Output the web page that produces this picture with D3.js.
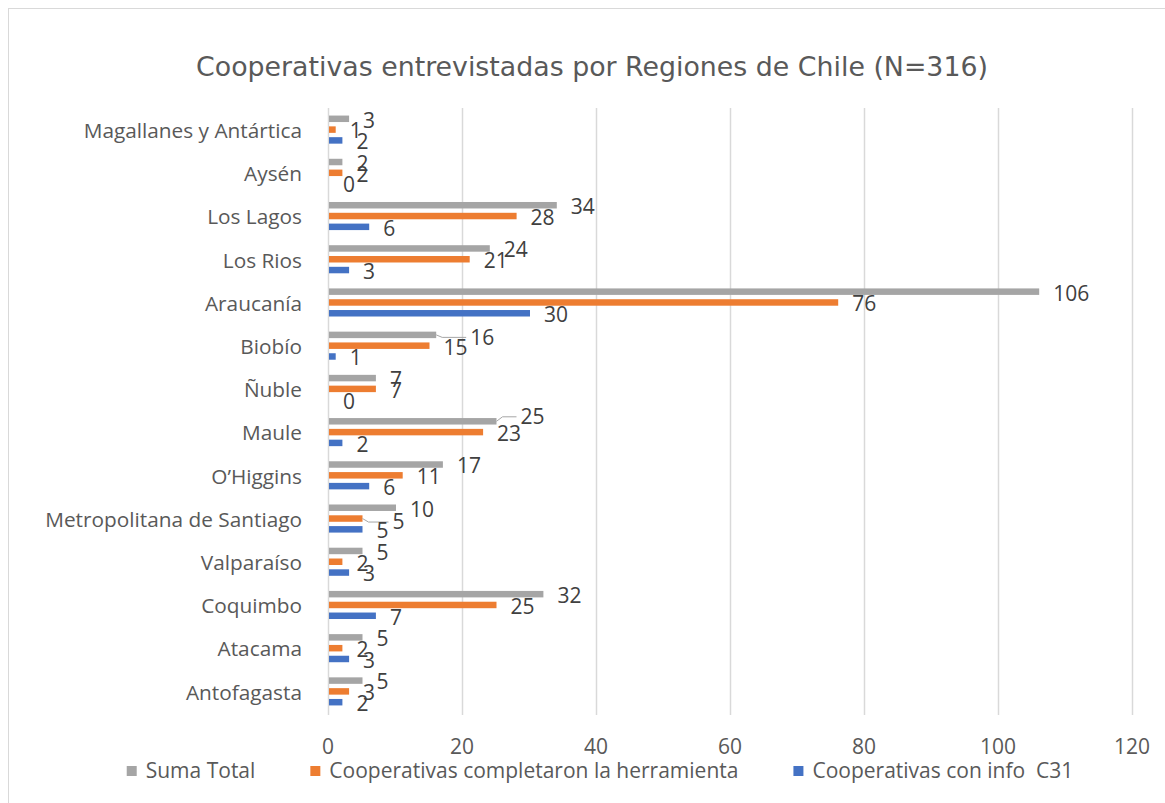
<!DOCTYPE html>
<html>
<head>
<meta charset="utf-8">
<script src="https://cdn.jsdelivr.net/npm/d3@7"></script>
<style>
  body { margin: 0; background: #fff; }
  text { font-family: "Open Sans", sans-serif; white-space: pre; }
</style>
</head>
<body>
<div id="chart"></div>
<script>
(function() {
    'use strict';

    var categories = ['Magallanes y Antártica', 'Aysén', 'Los Lagos', 'Los Rios', 'Araucanía', 'Biobío', 'Ñuble',
                      'Maule', 'O\u2019Higgins', 'Metropolitana de Santiago', 'Valparaíso', 'Coquimbo', 'Atacama', 'Antofagasta'];
    var seriesNames = ['Suma Total', 'Cooperativas completaron la herramienta', 'Cooperativas con info  C31'];
    var sumaTotal   = [3, 2, 34, 24, 106, 16, 7, 25, 17, 10, 5, 32, 5, 5];
    var completaron = [1, 2, 28, 21, 76, 15, 7, 23, 11, 5, 2, 25, 2, 3];
    var conInfo     = [2, 0, 6, 3, 30, 1, 0, 2, 6, 5, 3, 7, 3, 2];
    var xTicks = [0, 20, 40, 60, 80, 100, 120];

    var colors = ['#a5a5a5', '#ed7d31', '#4472c4'];
    var values = [sumaTotal, completaron, conInfo];

    // labels excel pushed aside with a leader line
    var nudges = {
        'Maule|0': { dx: 10, dy: -6 },
        'Biobío|0': { dx: 20, dy: 1 },
        'Metropolitana de Santiago|1': { dx: 16, dy: 2 }
    };

    var width = 1165,
        height = 803;

    var svg = d3.select('#chart').append('svg')
        .attr('width', width)
        .attr('height', height);

    svg.append('rect')
        .attr('x', 8.5).attr('y', 8.5)
        .attr('width', 1170).attr('height', 810)
        .attr('fill', '#fff')
        .attr('stroke', '#d9d9d9');

    svg.append('text')
        .attr('x', 592).attr('y', 76)
        .attr('text-anchor', 'middle')
        .style('font-family', '"DejaVu Sans", sans-serif')
        .style('font-size', '26.8px')
        .attr('fill', '#595959')
        .text('Cooperativas entrevistadas por Regiones de Chile (N=316)');

    var x = d3.scaleLinear()
        .domain([0, 120])
        .range([328, 1132]);

    var y = d3.scaleBand()
        .domain(categories)
        .range([108, 713])
        .paddingInner(0.25)
        .paddingOuter(0.125);

    var ySub = d3.scaleBand()
        .domain(d3.range(seriesNames.length))
        .range([0, y.bandwidth()])
        .paddingInner(0.4)
        .paddingOuter(0.2);

    // gridlines
    svg.append('g').selectAll('line')
        .data(xTicks)
      .enter().append('line')
        .attr('x1', function(d) { return Math.round(x(d)) + 0.5; })
        .attr('x2', function(d) { return Math.round(x(d)) + 0.5; })
        .attr('y1', 108)
        .attr('y2', 715)
        .attr('stroke', '#d9d9d9')
        .attr('stroke-width', 1.5);

    svg.append('g').selectAll('text')
        .data(xTicks)
      .enter().append('text')
        .attr('x', function(d) { return x(d); })
        .attr('y', 754)
        .attr('text-anchor', 'middle')
        .attr('fill', '#595959')
        .style('font-size', '21px')
        .text(function(d) { return d; });

    // category labels
    svg.append('g').selectAll('text')
        .data(categories)
      .enter().append('text')
        .attr('x', 302)
        .attr('y', function(d) { return y(d) + y.bandwidth() / 2 + 1; })
        .attr('dy', '0.35em')
        .attr('text-anchor', 'end')
        .attr('fill', '#595959')
        .style('font-size', '20.8px')
        .text(function(d) { return d; });

    var rows = [];
    categories.forEach(function(c, i) {
        values.forEach(function(arr, s) {
            rows.push({ cat: c, s: s, v: arr[i] });
        });
    });

    var bar = svg.append('g').selectAll('g')
        .data(rows)
      .enter().append('g')
        .attr('transform', function(d) { return 'translate(0,' + (y(d.cat) + ySub(d.s)) + ')'; });

    bar.append('rect')
        .attr('x', x(0) + 1)
        .attr('width', function(d) { return Math.max(0, x(d.v) - x(0)); })
        .attr('height', ySub.bandwidth())
        .attr('fill', function(d) { return colors[d.s]; });

    var h = ySub.bandwidth();

    bar.each(function(d) {
        var n = nudges[d.cat + '|' + d.s];
        if (!n) return;
        var x0 = x(d.v) + 1, lx = x(d.v) + 14 + n.dx, ly = h / 2 + 1.5 + n.dy;
        d3.select(this).append('polyline')
            .attr('points', [[x0, h / 2], [x0 + Math.min(6, lx - x0 - 8), ly], [lx - 3, ly]].join(' '))
            .attr('fill', 'none')
            .attr('stroke', '#a6a6a6')
            .attr('stroke-width', 1);
    });

    bar.append('text')
        .attr('x', function(d) {
            var n = nudges[d.cat + '|' + d.s];
            return x(d.v) + 15 + (n ? n.dx : 0);
        })
        .attr('y', function(d) {
            var n = nudges[d.cat + '|' + d.s];
            return h / 2 + 1.5 + (n ? n.dy : 0);
        })
        .attr('dy', '0.35em')
        .attr('fill', '#404040')
        .style('font-size', '21px')
        .text(function(d) { return d.v; });

    // legend
    var legend = svg.append('g');
    var lx = 0;
    seriesNames.forEach(function(name, i) {
        var item = legend.append('g').attr('transform', 'translate(' + lx + ',0)');
        item.append('rect')
            .attr('x', 0).attr('y', -5)
            .attr('width', 10).attr('height', 10)
            .attr('fill', colors[i]);
        var t = item.append('text')
            .attr('x', 19).attr('y', 0)
            .attr('dy', '0.35em')
            .attr('fill', '#595959')
            .style('font-size', '21px')
            .text(name);
        lx += 19 + t.node().getComputedTextLength() + 55;
    });
    var legendWidth = lx - 55;
    legend.attr('transform', 'translate(' + (600 - legendWidth / 2) + ',771)');
})();
</script>
</body>
</html>
